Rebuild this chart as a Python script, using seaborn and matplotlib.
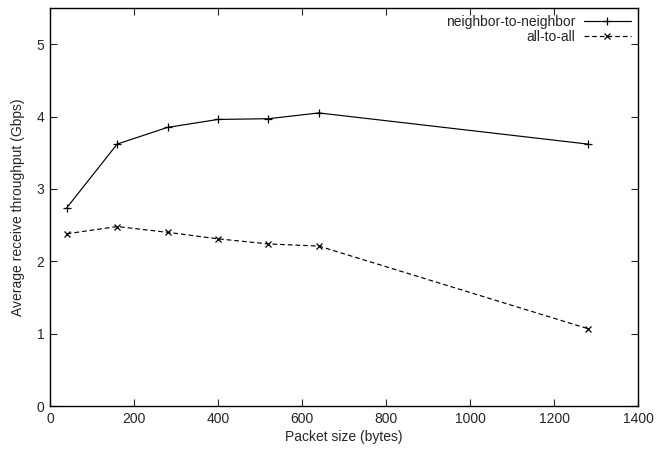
import matplotlib

matplotlib.use("Agg")
import matplotlib.pyplot as plt
import seaborn as sns

packet_sizes = [40, 160, 280, 400, 520, 640, 1280]
neighbor_to_neighbor = [2.74, 3.62, 3.85, 3.96, 3.97, 4.05, 3.62]
all_to_all = [2.38, 2.48, 2.40, 2.31, 2.24, 2.21, 1.07]
series_names = ["neighbor-to-neighbor", "all-to-all"]

sns.set_style("ticks")
plt.rcParams["font.family"] = ["Liberation Sans", "DejaVu Sans"]
plt.rcParams["xtick.direction"] = "in"
plt.rcParams["ytick.direction"] = "in"

fig = plt.figure(figsize=(6.61, 4.53), dpi=100)
ax = fig.add_axes([50 / 661, 47 / 453, 588 / 661, 398 / 453])

# gnuplot-like look: thin black lines, + and x point markers
sns.lineplot(x=packet_sizes, y=neighbor_to_neighbor, label=series_names[0], color="black",
             linestyle="-", linewidth=0.85, marker="+", markersize=5.5,
             markeredgecolor="black", markeredgewidth=0.9, ax=ax)
sns.lineplot(x=packet_sizes, y=all_to_all, label=series_names[1], color="black",
             linestyle=(0, (4, 2.5)), linewidth=0.85, marker="x", markersize=4.5,
             markeredgecolor="black", markeredgewidth=0.9, ax=ax)

ax.set_xlim(0, 1400)
ax.set_ylim(0, 5.5)
ax.set_xticks(range(0, 1401, 200))
ax.set_yticks(range(0, 6))
ax.tick_params(axis="both", which="both", top=True, right=True, length=5, width=0.8,
               labelsize=10, pad=4)
for spine in ax.spines.values():
    spine.set_visible(True)
    spine.set_linewidth(1.0)
    spine.set_color("black")

ax.set_xlabel("Packet size (bytes)", fontsize=10, labelpad=3)
ax.set_ylabel("Average receive throughput (Gbps)", fontsize=10, labelpad=8)

handles, labels = ax.get_legend_handles_labels()
ax.legend(handles, labels, loc="upper right", frameon=False, markerfirst=False,
          fontsize=10, handlelength=3.4, handletextpad=0.6, labelspacing=0.05,
          borderaxespad=0.1)

fig.savefig("out.png", dpi=100)
